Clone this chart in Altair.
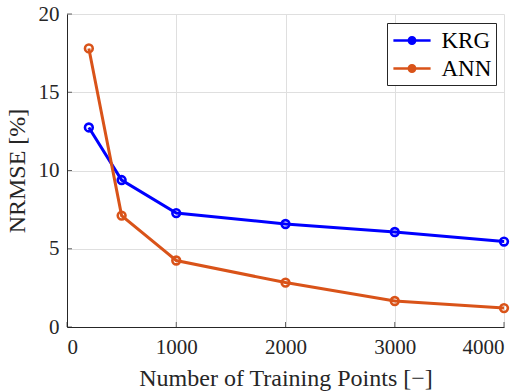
import altair as alt
import pandas as pd

# Training set sizes and normalised RMS errors (%) for the two surrogates
n_points = [200, 500, 1000, 2000, 3000, 4000]
krg_nrmse = [12.75, 9.39, 7.28, 6.58, 6.07, 5.46]
ann_nrmse = [17.8, 7.12, 4.25, 2.84, 1.66, 1.21]
models = ["KRG", "ANN"]
colors = ["#0000FF", "#D95319"]
y_ticks = [0, 5, 10, 15, 20]
x_ticks = [0, 1000, 2000, 3000, 4000]

rows = []
for n, k, a in zip(n_points, krg_nrmse, ann_nrmse):
    rows.append({"n": n, "nrmse": k, "model": "KRG"})
    rows.append({"n": n, "nrmse": a, "model": "ANN"})
df = pd.DataFrame(rows)

FONT = "Liberation Serif"
W, H = 437, 313

# legend glyph: a line segment with a solid dot (concentric rings fill the dot)
LEGEND_GLYPH = (
    "M-1.55,0H1.55"
    "M0.26,0A0.26,0.26,0,1,1,-0.26,0A0.26,0.26,0,1,1,0.26,0"
    "M0.1,0A0.1,0.1,0,1,1,-0.1,0A0.1,0.1,0,1,1,0.1,0"
)

x_enc = alt.X(
    "n:Q",
    scale=alt.Scale(domain=[0, 4000], nice=False),
    axis=alt.Axis(values=x_ticks, title="Number of Training Points [\u2212]",
                  format="d", labelPadding=9, titlePadding=9),
)
y_enc = alt.Y(
    "nrmse:Q",
    scale=alt.Scale(domain=[0, 20], nice=False),
    axis=alt.Axis(values=y_ticks, title="NRMSE [%]", labelPadding=8,
                  titlePadding=9),
)
color_enc = alt.Color(
    "model:N",
    scale=alt.Scale(domain=models, range=colors),
    sort=models,
    legend=alt.Legend(
        title=None,
        orient="none",
        legendX=320,
        legendY=9,
        strokeColor="#262626",
        fillColor="white",
        padding=4,
        cornerRadius=0,
        symbolType=LEGEND_GLYPH,
        symbolSize=576,
        symbolOffset=7.5,
        symbolStrokeWidth=2.6,
        labelFont=FONT,
        labelFontSize=23,
        labelColor="black",
        labelOffset=16,
        rowPadding=2,
    ),
)

lines = alt.Chart(df).mark_line(strokeWidth=3).encode(
    x=x_enc, y=y_enc, color=color_enc, detail="model:N"
)
points = alt.Chart(df).mark_point(
    shape="circle", filled=False, size=60, strokeWidth=2.6, opacity=1
).encode(x="n:Q", y="nrmse:Q", color=alt.Color("model:N", legend=None,
         scale=alt.Scale(domain=models, range=colors)))

# short inward-pointing tick marks along the axes
ytick_df = pd.DataFrame({"v": y_ticks})
xtick_df = pd.DataFrame({"v": x_ticks})
yticks = alt.Chart(ytick_df).mark_tick(
    orient="horizontal", size=5, thickness=1, color="#262626"
).encode(y="v:Q", x=alt.value(2.5))
xticks = alt.Chart(xtick_df).mark_tick(
    orient="vertical", size=5, thickness=1, color="#262626"
).encode(x="v:Q", y=alt.value(H - 2.5))

chart = (
    alt.layer(lines, points, yticks, xticks)
    .properties(
        width=W,
        height=H,
        autosize=alt.AutoSizeParams(type="none"),
        padding={"left": 67, "top": 14, "right": 25, "bottom": 64},
    )
    .configure_view(stroke=None)
    .configure_axis(
        grid=True,
        gridColor="#DFDFDF",
        gridWidth=1,
        domainColor="#262626",
        domainWidth=1,
        ticks=False,
        labelFont=FONT,
        labelFontSize=21,
        labelColor="#262626",
        titleFont=FONT,
        titleFontSize=24,
        titleFontWeight="normal",
        titleColor="#262626",
    )
)

chart.save("out.html", embed_options={"renderer": "svg", "actions": False})
